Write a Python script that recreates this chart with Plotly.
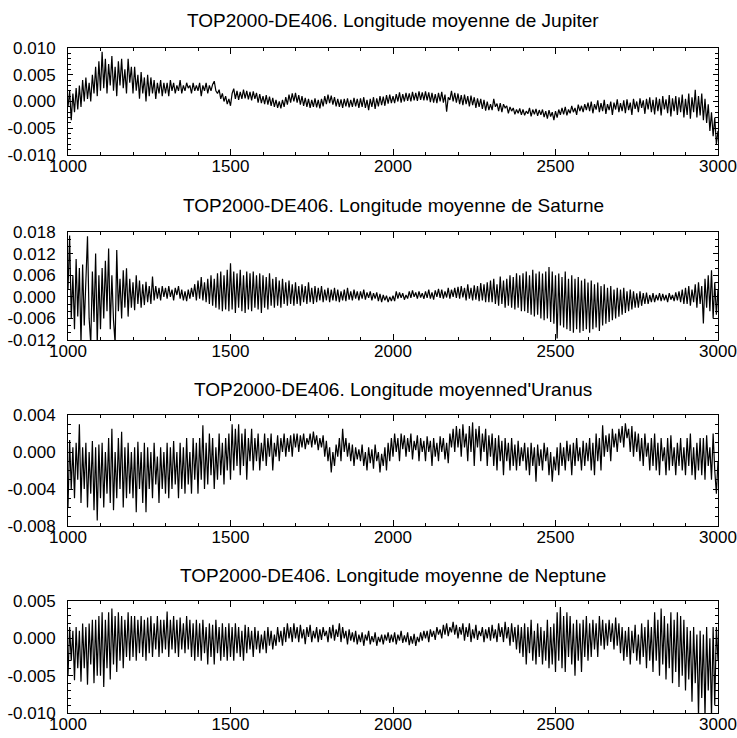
import plotly.graph_objects as go

# Values in units of 1e-3, sampled every 5 years from 1000 to 3000
START_YEAR = 1000
STEP = 5
SCALE = 1e-3

jupiter = [
    -1.0, 2.0, -3.5, 1.5, -2.0, 2.5, -1.5, 3.0, -1.0, 4.0, 0.0, 4.5, 0.5, 3.5, 0.0, 5.0, 1.5, 6.5, 1.0, 7.5,
    2.0, 9.3, 2.5, 8.0, 1.5, 7.0, 3.0, 8.5, 2.0, 6.5, 1.0, 7.5, 3.0, 8.0, 2.5, 6.0, 1.5, 8.0, 3.5, 6.5,
    1.5, 6.5, 2.0, 5.0, 0.5, 5.5, 1.5, 4.5, 0.0, 5.0, 1.0, 4.5, 1.5, 4.0, 0.5, 3.5, 1.5, 4.0, 1.0, 3.5,
    1.5, 3.5, 1.0, 4.0, 2.0, 3.5, 1.5, 3.0, 2.0, 4.0, 1.5, 3.0, 2.0, 3.5, 2.5, 3.0, 1.5, 3.5, 2.0, 3.0,
    2.0, 3.5, 1.0, 3.0, 2.0, 3.5, 1.5, 3.0, 2.0, 3.2, 3.8, 2.0, 1.5, 2.2, 0.5, 1.5, 0.0, 1.0, -0.5, 0.5,
    -0.8, 1.5, 2.4, 0.5, 2.0, 0.3, 1.8, 0.5, 2.2, 0.6, 2.0, 0.4, 1.8, 0.2, 1.9, 0.5, 1.6, -0.2, 1.4, -0.3,
    1.0, -0.5, 1.2, -0.6, 0.9, -0.8, 0.7, -1.0, 0.3, -1.2, 0.0, -1.3, 0.3, -1.0, 0.8, -0.6, 1.3, -0.2, 1.5, 0.0,
    1.6, -0.2, 1.2, -0.6, 1.0, -0.8, 0.7, -1.0, 0.5, -1.2, 0.3, -1.0, 0.6, -1.1, 0.3, -1.3, 0.5, -0.9, 1.0, -0.5,
    1.3, -0.3, 1.1, -0.6, 0.8, -0.9, 0.5, -1.0, 0.4, -1.2, 0.5, -0.9, 0.6, -1.1, 0.3, -1.0, 0.7, -0.9, 0.5, -1.2,
    0.6, -1.0, 0.8, -1.2, 0.3, -1.6, 0.5, -1.0, 0.8, -1.4, 0.6, -0.9, 1.0, -0.7, 0.9, -0.8, 1.2, -0.4, 1.3, -0.3,
    1.0, -0.3, 1.4, 0.0, 1.7, -0.2, 1.4, 0.0, 1.6, 0.1, 1.5, 0.0, 1.8, 0.2, 1.6, 0.1, 1.9, 0.3, 1.7, 0.2,
    1.9, 0.2, 1.7, -0.1, 1.6, -0.2, 1.4, -0.3, 1.6, 0.0, 1.8, -0.2, 1.3, -1.9, 0.8, 0.3, 2.0, 0.0, 1.6, -0.2,
    1.5, -0.5, 1.2, -0.7, 1.3, -0.5, 1.0, -0.9, 1.1, -0.7, 0.8, -1.2, 0.6, -1.0, 0.5, -1.4, 0.3, -1.7, 0.0, -1.6,
    -0.5, -1.6, 0.5, -1.0, -0.4, -1.8, -0.3, -2.0, -0.5, -1.2, -0.8, -2.2, -1.0, -1.8, -1.2, -2.4, -1.5, -2.2, -1.3, -2.5,
    -1.5, -2.6, -1.8, -2.3, -1.2, -2.8, -1.5, -2.4, -1.4, -2.7, -1.6, -2.5, -1.5, -2.9, -1.8, -3.2, -1.6, -2.8, -2.0, -3.5,
    -1.8, -3.0, -1.5, -2.5, -1.2, -2.4, -1.0, -2.6, -1.5, -2.2, -0.8, -2.0, -1.2, -2.5, -0.6, -1.8, -0.8, -2.0, -0.5, -1.6,
    -0.2, -1.8, 0.0, -2.2, -0.5, -1.5, 0.2, -2.0, -0.3, -1.8, 0.3, -2.3, -0.5, -1.6, 0.0, -2.5, -0.2, -1.5, 0.4, -2.0,
    -0.3, -1.8, 0.2, -2.2, 0.4, -1.6, -0.2, -2.5, 0.5, -1.4, 0.0, -2.0, 0.6, -1.2, 0.2, -2.3, 0.5, -1.5, 0.8, -2.0,
    0.3, -2.4, 0.8, -1.8, 0.5, -2.6, 1.0, -1.5, 0.4, -2.2, 1.2, -2.8, 0.6, -1.8, 1.0, -2.5, 0.8, -2.0, 1.3, -3.0,
    0.5, -2.5, 1.5, -3.2, 0.8, -2.0, 2.2, -3.0, 1.0, -2.6, 1.5, -3.5, 0.5, -4.0, -0.5, -5.5, -2.0, -6.5, -3.0, -8.0,
    -5.5,
]

saturne = [
    2, 17, -6, 6, -9, 10.5, -5.5, 8, -13, 9, -8, 7, 16.8, -6, -13, 7, -7, 12, -13, 6,
    -9, 8, -6, 10, -4, 13.4, -9, 6, -6.5, -13, 13, -4, 5, -6, 7.4, -3, 7.9, -5.5, 5, -3,
    4, -3.7, 6, -2, 4.5, -3, 3.5, -2.3, 4.2, -1.5, 3, -2, 5.6, -1, 3, -0.5, 2.5, -1, 3, 0,
    2.5, -0.5, 3, 0, 2, -1, 2.5, 0.5, 3, -0.5, 2, -1, 1.5, -1.2, 2, -0.5, 2.5, 0, 3.5, -1,
    4.5, -0.5, 5.5, -1, 4, -1.5, 5, -2, 6, -2.5, 5, -3, 6.5, -3.5, 7, -4, 6, -3.5, 7.5, -4,
    9.3, -3.5, 7, -4.5, 6.5, -3, 7.5, -4, 6, -4.5, 7, -3.5, 6.5, -4, 7, -3, 6, -3.5, 6.5, -4.5,
    6, -3, 5.5, -3.5, 6.5, -2.5, 5, -3, 5.5, -2.5, 4.5, -3, 5, -2, 4, -2.5, 4.5, -2, 3.5, -2.5,
    4, -2, 3, -2.5, 3.5, -1.5, 3, -2, 4, -1.5, 2.5, -2, 3, -1.5, 2.5, -1, 3, -1.5, 2, -1,
    2.5, -1.5, 2, -1, 2.5, -1.2, 2, -1.5, 1.5, -1, 2, -1.2, 2.5, -0.8, 1.5, -1, 2, -0.5, 1.5, -1,
    1.5, -0.5, 2, -0.8, 1.2, -0.3, 1.5, -1, 1, -0.5, 1.2, -1.2, 0.8, -1.5, 0.5, -1, 0.3, -1.5, 0, -1.2,
    0.3, -1.2, 1.5, -0.5, 1.2, -0.3, 1, -0.8, 0.5, -0.5, 1.5, -0.3, 1.8, 0, 1.2, -0.5, 1.5, -0.2, 1, -0.6,
    1.5, -0.3, 2, -0.5, 1.2, -0.8, 1.8, 0, 2.2, -0.3, 2, -0.5, 1.5, -0.2, 2.5, -0.5, 2, 0, 2.5, -0.3,
    2.8, -0.5, 3, -0.2, 2.5, -1, 3.5, -0.5, 2.5, -1, 3.2, -0.8, 3, -1.2, 3.8, -1, 3.5, -1.5, 4, -1.5,
    4.5, -1.5, 5, -2, 3.5, -2.5, 5.6, -2, 4.5, -3, 5, -2.5, 6, -3, 5.5, -3.5, 6.5, -3, 6, -4,
    6.5, -4, 7, -4.5, 6, -5, 7.5, -5.5, 6.5, -5, 7, -6, 6.5, -6.5, 7, -6, 8.3, -7, 7, -7.5,
    6, -11.6, 6.5, -8, 5.5, -8.5, 7, -9, 5, -9.5, 6, -10, 5, -9, 5.5, -10, 4.5, -9.5, 5, -9,
    4, -10, 4.5, -9, 3.5, -8.5, 4, -9.5, 3, -8, 3.5, -7.5, 2.5, -7, 3, -6.5, 2, -6, 2.5, -5.5,
    2, -5, 2.5, -4.5, 1.5, -4, 2, -3.5, 1.5, -3, 1, -3, 1.5, -2.5, 1, -2, 1.2, -2, 0.5, -1.5,
    1, -1.5, 0.5, -1, 1, -1.2, 0.8, -1, 0.5, -1.5, 1, -0.8, 0.5, -1.2, 1.2, -1, 1.5, -1.5, 2, -2,
    2.5, -2, 3, -2.5, 2, -1.5, 3.5, -3, 4, -2, 3, -7.4, 5, -3, 6, -4, 7.4, -6, 4, -5,
    2,
]

uranus = [
    -6, 1.3, -4, 0.5, -5, 1, -3, 3, -5.5, 0.5, -4, 1, -6, 0, -4.5, 1.2, -6.3, 0.5, -7.4, 0.8,
    -5, 1, -6, 0, -4.5, 1.5, -5.5, 2.5, -6.3, 0, -5, 1.5, -4, 2.2, -6, 0.5, -5, 1, -4.5, 0,
    -5, 0.5, -6.5, 1.1, -4, 0, -5.5, 1, -6.5, 0.5, -4, 0, -5, 1, -3.5, -0.5, -5.5, 0.5, -4, 0,
    -4.5, 1, -5, 0.5, -4, 1.2, -3.5, 0, -5, 1, -4, 0.5, -4.5, 1.5, -3.5, 0, -4.5, 1.5, -3, 1,
    -4.5, 1.5, -3, 2.9, -4, 1, -3.5, 2, -2.5, 1.5, -4, 0.5, -3, 2, -2.5, 1, -3.5, 1.5, -2, 2,
    -3, 3, -2, 2.5, -1.5, 3, -2.5, 2, -1.5, 2.5, -3, 1.5, -1, 2.5, -2, 1.5, -1, 2, -2, 1,
    -1, 2, -1.5, 1.5, -0.5, 2, -2, 1, -0.5, 1.8, -1, 1.5, 0, 2, -0.5, 1.5, 0, 1.8, -0.5, 2,
    0.5, 2, 0, 1.8, 0.5, 2, 0.3, 1.5, 0.8, 2, 0.5, 2.2, 0.8, 1.8, 0.2, 1.5, 0.5, 1.8, -0.5, 1.2,
    -1, 0.5, -2.2, 0, -1.5, 0.8, -0.5, 1.5, -1, 2.5, 0, 1.5, -0.5, 1, -1, 0.8, -1.5, 0.5, -0.8, 0.3,
    -1, 0.8, -1.5, 0, -2, 0.5, -1.2, 0.3, -1.8, 0.8, -1, 0, -2.2, -0.2, -1.5, 0.5, -2, 1, -1, 1.5,
    -0.5, 2, 0, 1.5, -1, 2, 0.3, 1.8, -0.5, 1.5, 0, 2, -0.8, 1.2, 0.2, 1.8, -1, 1.5, 0, 1.2,
    -1, 1.7, 0, 1.2, -1.5, 1.5, -0.5, 1, -1, 1.7, 0, 1.5, -0.8, 1, -1.2, 2, 0.5, 2.5, 0, 2.8,
    0.5, 2.5, -0.5, 3, 0.5, 2, -1, 2.8, 0, 3.2, -1.5, 2.5, 0.5, 2.8, -1, 2, 0, 2.5, -1.5, 1.8,
    -0.5, 2, -1.5, 1.5, -2, 1.8, -1, 1.2, -2.5, 1.5, -1, 1, -2, 1.5, -1.5, 0.8, -2, 1.2, -1.5, 0.5,
    -1, 1, -2, 0.5, -2.5, 1, -1.5, 0.5, -3.2, 0.8, -1.5, 0.3, -2, 1, -1, 0.5, -2.5, 0, -3.2, -0.5,
    -2, 0.5, -2.5, 1, -1.5, 0.5, -2, 1.2, -1, 0.8, -2.5, 1, -1.5, 1.5, -1, 0.5, -2, 1.2, -1.5, 1,
    -1, 1.5, -2, 1, -2.5, 2, -1, 1.5, -2, 2.9, -0.5, 1.8, 0, 2, -1, 2.5, 0.5, 2, 0, 2.5,
    1, 2.8, 0.5, 3.1, 1.5, 2.5, 0, 2.8, -0.5, 2.2, 0, 2, -1, 1.5, -1.5, 2, -0.5, 1, -2, 1.5,
    -1.5, 2, -2, 1, -2.5, 1.5, -1, 0.5, -2.5, 1.5, -2, 1.8, -1.5, 0.5, -2.5, 1, -1.5, 1.5, -2, 0.5,
    -2.5, 1.5, -1.5, 2, -2.5, 0.5, -3, 1, -2, 1.5, -2.5, 1.5, -3, 1.8, -1.5, 0.5, -3, 2, -2, -4.5,
    -1,
]

neptune = [
    -5, 1.5, -3, 1, -5.6, 1.5, -4, 1, -5.8, 2, -4, 1.5, -6.2, 2, -3.5, 2.5, -6, 2.5, -5, 3,
    -5, 3.5, -6.5, 2.5, -4, 3.5, -5.5, 4, -3.5, 3, -4.5, 3.5, -3, 3, -4, 2.5, -2.5, 3.5, -3, 3,
    -2.5, 3, -3, 2.5, -2, 3, -2.5, 2.5, -3, 2.8, -2, 3, -2.5, 2, -1.5, 3, -2.5, 2.5, -2, 2.5,
    -1.5, 3.6, -2.5, 2.5, -1.5, 3, -2, 2.5, -2.5, 2.8, -1.5, 2, -2, 3, -1.5, 2.5, -2.5, 2, -3, 2.5,
    -2.5, 2, -3, 2.5, -2, 1.5, -3.5, 2, -2.5, 1.8, -3.5, 2.5, -2, 1.5, -3, 2, -2.5, 1.5, -3, 2,
    -2.5, 1.5, -3, 2, -2, 1.5, -2.5, 1, -3, 1.8, -2, 1.5, -1.5, 1, -2.5, 1.5, -1.5, 1, -2, 0.5,
    -1.5, 1, -2, 1.5, -1, 1, -1.5, 0.5, -1, 1.5, -0.5, 1, -1, 1.5, -0.5, 2, 0, 1.5, -0.5, 2,
    0, 1.5, -0.5, 1.8, 0, 1.2, -0.8, 1.5, 0.2, 1.8, -0.5, 1, 0, 1.5, -0.5, 1.2, -0.2, 1.5, 0.3, 1,
    -0.5, 1.5, 0, 1.8, -0.3, 1.2, 0.2, 2, -0.5, 1.5, 0, 1, -0.8, 1.2, -0.3, 0.8, -0.5, 1, -0.8, 0.5,
    -0.5, 0.8, -1, 0.5, -0.3, 1, -0.8, 0.3, -0.5, 0.8, -1, 0.2, -0.5, 0.5, -0.8, 0.5, -0.3, 0.8, -0.6, 0.5,
    -0.5, 0.8, -0.8, 0.5, -0.3, 1, -0.6, 0.4, -0.5, 0.8, -0.9, 0.3, -0.7, 0.6, -1, 0.2, -0.5, 0.8, -0.3, 1,
    0, 1, -0.5, 1.2, 0.2, 1, -0.2, 1.5, 0.5, 1.2, 0, 1.8, 0.5, 2, 0.3, 1.5, 0.8, 2.2, 0.5, 1.8,
    0, 1.5, 0.5, 2, -0.3, 1.5, 0.2, 2, -0.5, 1.2, 0, 1.8, -0.2, 1, 0.3, 1.5, -0.5, 1.2, 0, 1.5,
    -0.3, 1.8, 0, 1.2, -0.5, 2, 0.2, 1.5, -0.5, 2.2, 0, 1.5, -1, 2, -0.5, 1.5, -1.5, 1.8, -2, 1.5,
    -2.5, 2, -3.5, 1.5, -2, 2.5, -3, 1, -3.5, 2, -2.5, 1.5, -3.5, 1, -3, 2.5, -4, 1.5, -3.5, 2,
    -4.5, 3.5, -3, 4.2, -4, 3, -4.5, 3.5, -2.5, 3, -3.5, 2, -5, 2.5, -3, 2, -4.5, 2.5, -2.5, 3,
    -3, 2, -2.5, 2.5, -1.5, 2, -2.5, 3, -1, 2.5, -1.5, 2, -1, 2.5, -0.5, 2, -1.5, 2.8, -1, 2,
    -2, 1.5, -3, 1, -2.5, 1.5, -3.5, 1, -2, 1.8, -3, 0.5, -3.5, 2, -2.5, 1.5, -4, 2.5, -3, 1.5,
    -4.5, 3.5, -3, 2.5, -5, 4, -3.5, 3, -5.5, 2, -4, 3.5, -6, 2.5, -4.5, 3.5, -6.5, 3, -5, 2.5,
    -7, 1.5, -5.5, 1, -8.5, 1.5, -6, 0.5, -10.5, 1, -8, 0.5, -10.5, 1.5, -7, 0, -10.5, 1.5, -9, 1.5,
    -3,
]

titles = [
    "TOP2000-DE406. Longitude moyenne de Jupiter",
    "TOP2000-DE406. Longitude moyenne de Saturne",
    "TOP2000-DE406. Longitude moyenned'Uranus",
    "TOP2000-DE406. Longitude moyenne de Neptune",
]

x_tickvals = [1000, 1500, 2000, 2500, 3000]
x_ticktext = ["1000", "1500", "2000", "2500", "3000"]

y_tickvals = [
    [-0.010, -0.005, 0.000, 0.005, 0.010],
    [-0.012, -0.006, 0.000, 0.006, 0.012, 0.018],
    [-0.008, -0.004, 0.000, 0.004],
    [-0.010, -0.005, 0.000, 0.005],
]
y_ticktext = [
    ["-0.010", "-0.005", "0.000", "0.005", "0.010"],
    ["-0.012", "-0.006", "0.000", "0.006", "0.012", "0.018"],
    ["-0.008", "-0.004", "0.000", "0.004"],
    ["-0.010", "-0.005", "0.000", "0.005"],
]
y_ranges = [[-0.010, 0.010], [-0.012, 0.018], [-0.008, 0.004], [-0.010, 0.005]]
y_minor = [0.001, 0.002, 0.001, 0.001]

series = [jupiter, saturne, uranus, neptune]

W, H = 737, 738
plot_left, plot_right = 68, 718
panels_px = [(48, 155), (232, 340), (415, 526), (601, 713)]
title_px = [20, 205, 390, 575]
ML, MR = plot_left, W - plot_right
MT, MB = panels_px[0][0], H - panels_px[-1][1]
PH = H - MT - MB

FONT = "Liberation Sans, Arial, Helvetica, sans-serif"

fig = go.Figure()
for i, vals in enumerate(series):
    years = [START_YEAR + STEP * k for k in range(len(vals))]
    ys = [v * SCALE for v in vals]
    xa = "x" if i == 0 else f"x{i+1}"
    ya = "y" if i == 0 else f"y{i+1}"
    fig.add_trace(go.Scatter(x=years, y=ys, mode="lines",
                             line=dict(color="black", width=1.2),
                             xaxis=xa, yaxis=ya, showlegend=False,
                             cliponaxis=True))

layout = dict(
    width=W, height=H,
    margin=dict(l=ML, r=MR, t=MT, b=MB, autoexpand=False),
    paper_bgcolor="white", plot_bgcolor="white",
    font=dict(family=FONT, color="black", size=17),
    showlegend=False,
    annotations=[],
)

for i in range(4):
    top, bot = panels_px[i]
    xkey = "xaxis" if i == 0 else f"xaxis{i+1}"
    ykey = "yaxis" if i == 0 else f"yaxis{i+1}"
    ya = "y" if i == 0 else f"y{i+1}"
    xa = "x" if i == 0 else f"x{i+1}"
    layout[xkey] = dict(
        domain=[0, 1],
        anchor=ya,
        range=[1000, 3000],
        automargin=False,
        tickmode="array", tickvals=x_tickvals, ticktext=x_ticktext,
        ticks="inside", ticklen=6, tickwidth=1, tickcolor="black",
        minor=dict(dtick=100, tick0=1000, ticks="inside", ticklen=3, tickcolor="black", tickwidth=1),
        showline=True, linecolor="black", linewidth=1, mirror="allticks",
        showgrid=False, zeroline=False,
        tickfont=dict(size=17, family=FONT, color="black"),
        ticklabelstandoff=-4,
    )
    layout[ykey] = dict(
        domain=[(H - MB - bot) / PH, (H - MB - top) / PH],
        anchor=xa,
        range=y_ranges[i],
        automargin=False,
        tickmode="array", tickvals=y_tickvals[i], ticktext=y_ticktext[i],
        ticks="inside", ticklen=5, tickwidth=1, tickcolor="black",
        minor=dict(dtick=y_minor[i], tick0=0, ticks="inside", ticklen=3, tickcolor="black", tickwidth=1),
        showline=True, linecolor="black", linewidth=1, mirror="allticks",
        showgrid=False, zeroline=False,
        tickfont=dict(size=17, family=FONT, color="black"),
        ticklabelstandoff=8,
    )
    layout["annotations"].append(dict(
        text=titles[i], xref="paper", yref="paper",
        x=0.5, y=(H - MB - title_px[i]) / PH,
        xanchor="center", yanchor="middle", showarrow=False,
        font=dict(size=19, family=FONT, color="black"),
    ))

fig.update_layout(**layout)
fig.write_html(
    "out.html",
    config={"displayModeBar": False},
    post_script=(
        "document.body.style.margin='0';"
        "document.body.style.overflow='hidden';"
        "document.documentElement.style.overflow='hidden';"
    ),
)
